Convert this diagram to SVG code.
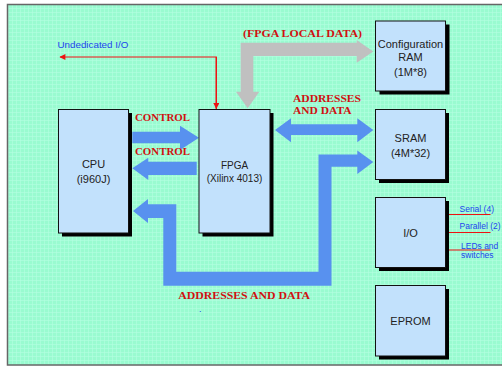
<svg xmlns="http://www.w3.org/2000/svg" width="502" height="367" viewBox="0 0 502 367">
<style>
.box{fill:#c2e1fc;stroke:#111;stroke-width:1}
.shadow{fill:#000}
.lbl{font-family:"Liberation Sans",Arial,sans-serif;fill:#222;text-anchor:middle}
.red{font-family:"Liberation Serif","Times New Roman",serif;font-weight:bold;fill:#d01010;font-size:11px}
.blue{font-family:"Liberation Sans",Arial,sans-serif;fill:#2244ee}
.bus{fill:#5891ef}
.gbus{fill:#c0c0c0}
.wire{stroke:#ee1111;stroke-width:1.2;fill:none}
</style>
<defs>
<pattern id="grid" width="4" height="4" patternUnits="userSpaceOnUse">
<rect width="4" height="4" fill="#99fbd0"/>
<path d="M0 0.5H4M0.5 0V4" stroke="#b4ffe0" stroke-width="0.6"/>
</pattern>
<marker id="ah" viewBox="0 0 10 10" refX="9" refY="5" markerWidth="7" markerHeight="6" orient="auto" markerUnits="userSpaceOnUse">
<path d="M0 0L10 5L0 10z" fill="#ee1111"/>
</marker>
</defs>
<rect x="7.5" y="4.5" width="500" height="360.5" fill="url(#grid)" stroke="#666" stroke-width="1.5"/>

<g id="connectors">
<polygon class="gbus" points="240.7,42.7 356.7,42.7 356.7,40 373.3,51.5 356.7,62.7 356.7,56 253.3,56 253.3,91.7 259.3,91.7 247.7,108.3 236,91.7 240.7,91.7"/>
<polygon class="bus" points="132.3,131.7 180,131.7 180,125.7 199,137.7 180,150 180,143.3 132.3,143.3"/>
<polygon class="bus" points="132.3,168.3 148.3,157.7 148.3,161.7 196.7,161.7 196.7,175 148.3,175 148.3,180"/>
<polygon class="bus" points="275,130 291,118.3 291,124.3 357.3,124.3 357.3,118.3 373.3,130 357.3,142.3 357.3,135 291,135 291,142.3"/>
<polygon class="bus" points="133,211 148,199 148,204.3 176.3,204.3 176.3,271.7 318.5,271.7 318.5,154.5 357.3,154.5 357.3,150.5 373.3,162 357.3,174 357.3,166.8 331.5,166.8 331.5,285.7 163.3,285.7 163.3,218 148,218 148,223"/>
<path class="wire" d="M216.3 109V57H60" marker-end="url(#ah)"/>
<path class="wire" d="M216.3 57V108.5" marker-end="url(#ah)"/>
<path class="wire" d="M445 214.5H490.5M445 232.5H490.5M445 250H490.5"/>
</g>

<g id="config-ram">
<rect class="shadow" x="379.5" y="24.5" width="70" height="70"/>
<rect class="box" x="375.5" y="21" width="70" height="70"/>
<text class="lbl" font-size="11" x="410.5" y="47.5">Configuration</text>
<text class="lbl" font-size="11" x="410.5" y="60.5">RAM</text>
<text class="lbl" font-size="11" x="410.5" y="75.5">(1M*8)</text>
</g>

<g id="cpu">
<rect class="shadow" x="62" y="113" width="70" height="123.5"/>
<rect class="box" x="58.5" y="109.5" width="70" height="123.5"/>
<text class="lbl" font-size="11" x="93.5" y="167.5">CPU</text>
<text class="lbl" font-size="11" x="93.5" y="183">(i960J)</text>
</g>

<g id="fpga">
<rect class="shadow" x="202.5" y="113" width="71" height="123.5"/>
<rect class="box" x="199" y="109.5" width="71" height="123.5"/>
<text class="lbl" font-size="10" x="234.5" y="168.5">FPGA</text>
<text class="lbl" font-size="10" x="234.5" y="182">(Xilinx 4013)</text>
</g>

<g id="sram">
<rect class="shadow" x="379" y="113" width="70" height="70"/>
<rect class="box" x="375.5" y="109.5" width="70" height="70"/>
<text class="lbl" font-size="11" x="410.5" y="142">SRAM</text>
<text class="lbl" font-size="11" x="410.5" y="156.5">(4M*32)</text>
</g>

<g id="io">
<rect class="shadow" x="379" y="201" width="70" height="70"/>
<rect class="box" x="375.5" y="197.5" width="70" height="70"/>
<text class="lbl" font-size="11" x="410.5" y="237">I/O</text>
</g>

<g id="eprom">
<rect class="shadow" x="379" y="289" width="70" height="70.5"/>
<rect class="box" x="375.5" y="285.5" width="70" height="70.5"/>
<text class="lbl" font-size="11" x="410.5" y="324.5">EPROM</text>
</g>

<g id="labels">
<text class="blue" font-size="9.8" x="57.5" y="47.5">Undedicated I/O</text>
<text class="red" x="243" y="37" textLength="119" lengthAdjust="spacingAndGlyphs">(FPGA LOCAL DATA)</text>
<text class="red" x="293" y="102" font-size="11.3" textLength="68" lengthAdjust="spacingAndGlyphs">ADDRESSES</text>
<text class="red" x="293" y="114" font-size="11.3" textLength="58.5" lengthAdjust="spacingAndGlyphs">AND DATA</text>
<text class="red" x="135" y="121" textLength="55" lengthAdjust="spacingAndGlyphs">CONTROL</text>
<text class="red" x="135" y="155" textLength="55" lengthAdjust="spacingAndGlyphs">CONTROL</text>
<text class="red" x="178.3" y="299" font-size="11.3" textLength="131.7" lengthAdjust="spacingAndGlyphs">ADDRESSES AND DATA</text>
<text class="blue" font-size="9" x="199" y="312">.</text>
<text class="blue" font-size="8.5" x="459.5" y="212">Serial (4)</text>
<text class="blue" font-size="8.5" x="459.5" y="229">Parallel (2)</text>
<text class="blue" font-size="8.5" x="461" y="248.5">LEDs and</text>
<text class="blue" font-size="8.5" x="461" y="258">switches</text>
</g>
</svg>
